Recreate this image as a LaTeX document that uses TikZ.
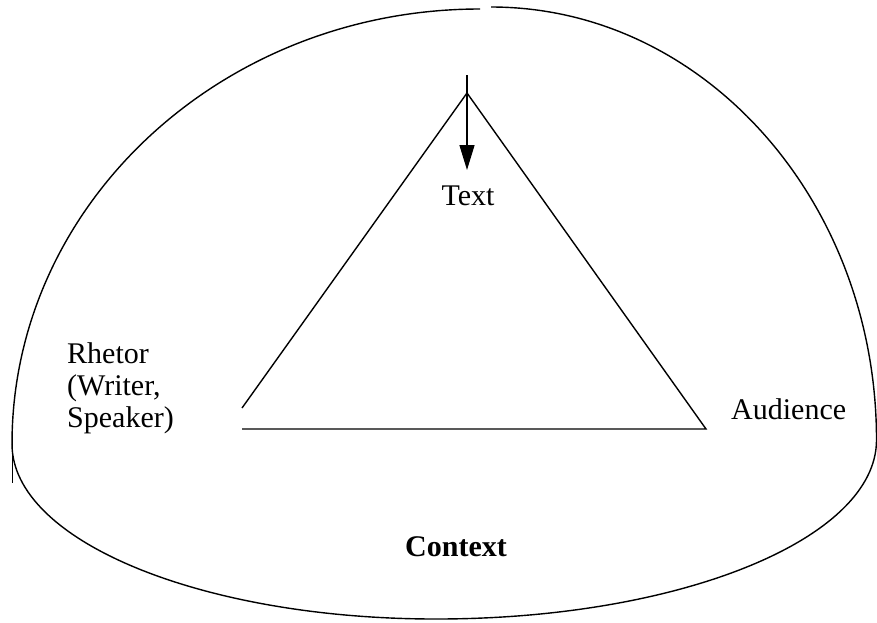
\documentclass[tikz,border=0pt]{standalone}
\usepackage{fontspec}
\setmainfont{Liberation Serif}
\usetikzlibrary{arrows.meta}
\tikzset{
  curve/.style={line width=1.4pt},
  tri/.style={line width=1.4pt},
  lbl/.style={inner sep=0pt, font=\fontsize{30}{32}\selectfont},
}
\begin{document}
\begin{tikzpicture}[x=1pt,y=-1pt]
\useasboundingbox (0,0) rectangle (877,622);
% outer context curve
\coordinate (L) at (12,444);
\coordinate (T1) at (480,9);
\coordinate (T2) at (491,7);
\coordinate (R) at (876.5,440);
\coordinate (B) at (436,619);
\draw[curve] (L) .. controls (12,204) and (222,9) .. (T1);
\draw[curve] (T2) .. controls (704,7) and (876.5,201) .. (R)
  .. controls (876.5,539) and (680,619) .. (B)
  .. controls (202,619) and (12,541) .. (L);
\coordinate (tickA) at (12.5,432);
\coordinate (tickB) at (12.5,483);
\draw[curve] (tickA) -- (tickB);
% triangle
\coordinate (apex) at (467,93);
\coordinate (lend) at (242,408);
\coordinate (bl) at (242,429);
\coordinate (br) at (706,429);
\draw[tri] (lend) -- (apex) -- (br) -- (bl);
% arrow
\coordinate (atop) at (467,75);
\coordinate (atip) at (467,170);
\draw[tri,-{Triangle[length=25pt,width=15pt]}] (atop) -- (atip);
% labels
\node[lbl, anchor=base] (text) at (468,205) {Text};
\node[lbl, anchor=base west] (aud) at (731,419) {Audience};
\node[lbl, anchor=north west, align=left] (rhet) at (67,342.5) {Rhetor\\(Writer,\\Speaker)};
\node[lbl, anchor=base, font=\fontsize{30}{32}\selectfont\bfseries] (ctx) at (456,556) {Context};
\end{tikzpicture}
\end{document}
